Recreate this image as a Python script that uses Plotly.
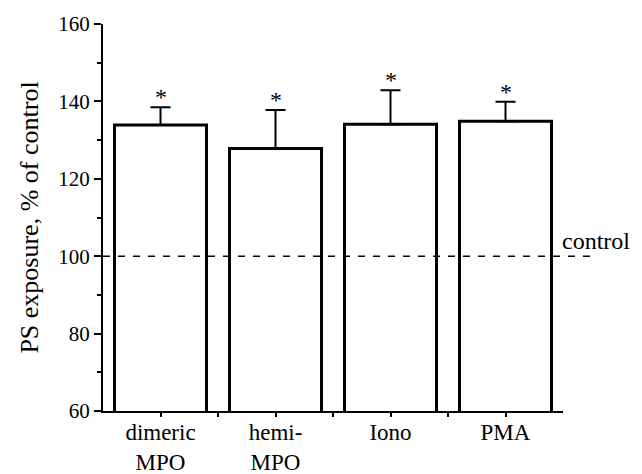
import plotly.graph_objects as go

categories = ["dimeric MPO", "hemi-MPO", "Iono", "PMA"]
tick_labels = ["dimeric<br>MPO", "hemi-<br>MPO", "Iono", "PMA"]
values = [133.9, 127.8, 134.1, 134.9]
error_tops = [138.5, 137.8, 142.9, 139.9]
control_value = 100
y_ticks = [60, 80, 100, 120, 140, 160]

FONT = "Liberation Serif"

xpos = list(range(len(categories)))
err_plus = [t - v for t, v in zip(error_tops, values)]

fig = go.Figure()
fig.add_trace(go.Bar(
    x=xpos, y=values, width=0.8,
    marker=dict(color="white", line=dict(color="black", width=3)),
    error_y=dict(type="data", array=err_plus, arrayminus=[0] * len(values),
                 symmetric=False, color="black", thickness=2, width=10),
    showlegend=False, hoverinfo="skip",
))

# dashed control line
fig.add_shape(type="line", xref="paper", yref="y", x0=0, x1=1.076,
              y0=control_value, y1=control_value,
              line=dict(color="black", width=1.5, dash="7px,8px"), layer="above")
fig.add_annotation(xref="paper", yref="y", x=0.993, y=control_value,
                   xanchor="left", yanchor="bottom", text="control",
                   showarrow=False, font=dict(family=FONT, size=24, color="black"),
                   yshift=0)

for xi, t in zip(xpos, error_tops):
    fig.add_annotation(x=xi, y=t, text="*", showarrow=False, xanchor="center",
                       yanchor="bottom", yshift=-5,
                       font=dict(family=FONT, size=24, color="black"))

tickvals = []
ticktext = []
for i, lab in enumerate(tick_labels):
    tickvals.append(i)
    ticktext.append(lab)
    if i < len(tick_labels) - 1:
        tickvals.append(i + 0.5)
        ticktext.append("")

fig.update_layout(
    width=634, height=466,
    margin=dict(l=95, r=79, t=16, b=63, autoexpand=False),
    paper_bgcolor="white", plot_bgcolor="white",
    font=dict(family=FONT, color="black"),
    xaxis=dict(range=[-0.5, 3.5], tickvals=tickvals, ticktext=ticktext,
               showline=True, linecolor="black", linewidth=2,
               ticks="outside", ticklen=4, tickwidth=1.5, tickcolor="black",
               ticklabelstandoff=-5,
               showgrid=False, zeroline=False,
               tickfont=dict(family=FONT, size=23, color="black")),
    yaxis=dict(range=[60, 160], tickvals=y_ticks,
               showline=True, linecolor="black", linewidth=2,
               ticks="outside", ticklen=7, tickwidth=2, tickcolor="black",
               minor=dict(dtick=10, ticks="outside", ticklen=4, tickwidth=2, tickcolor="black"),
               showgrid=False, zeroline=False,
               tickfont=dict(family=FONT, size=21, color="black"),
               title=dict(text="PS exposure, % of control", standoff=12,
                          font=dict(family=FONT, size=26, color="black"))),
)

fig.write_html("out.html")
